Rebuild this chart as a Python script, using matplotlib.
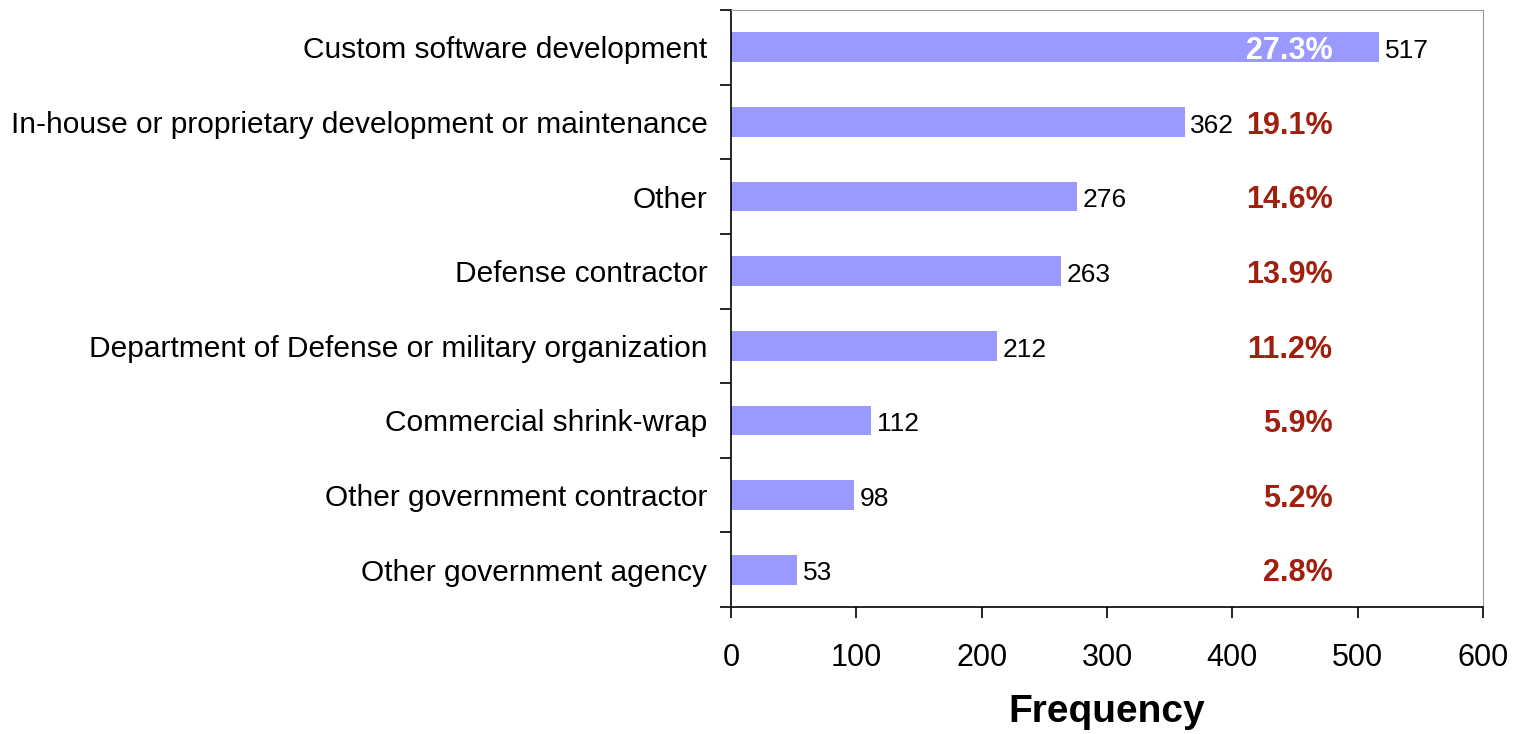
import numpy as np
import matplotlib.pyplot as plt

plt.rcParams['font.family'] = ['Liberation Sans', 'DejaVu Sans']

categories = [
    "Custom software development",
    "In-house or proprietary development or maintenance",
    "Other",
    "Defense contractor",
    "Department of Defense or military organization",
    "Commercial shrink-wrap",
    "Other government contractor",
    "Other government agency",
]
counts = [517, 362, 276, 263, 212, 112, 98, 53]
percents = ["27.3%", "19.1%", "14.6%", "13.9%", "11.2%", "5.9%", "5.2%", "2.8%"]

fig = plt.figure(figsize=(15.15, 7.34), dpi=100)
ax = fig.add_axes([731 / 1515, 1 - 607 / 734, 752 / 1515, 597 / 734])

y = np.arange(len(categories))
ax.barh(y, counts, height=0.4, color="#9999ff")
ax.set_ylim(len(categories) - 0.5, -0.5)
ax.set_xlim(0, 600)
ax.set_xticks(np.arange(0, 601, 100))

# category boundaries carry the tick marks; names sit between them
ax.set_yticks(np.arange(-0.5, len(categories), 1.0))
ax.set_yticklabels([])
ax.set_yticks(y, minor=True)
ax.set_yticklabels(categories, minor=True, fontsize=21.5)
ax.tick_params(axis="y", which="minor", length=0, pad=17)
ax.tick_params(axis="y", which="major", length=8, width=1.2, direction="out")
ax.tick_params(axis="x", length=8, width=1.2, direction="out", labelsize=22, pad=18)

for side in ("top", "right"):
    ax.spines[side].set_color("#999999")
for side in ("left", "bottom"):
    ax.spines[side].set_linewidth(1.2)

for i, (c, p) in enumerate(zip(counts, percents)):
    ax.text(c + 4.5, i + 0.05, str(c), va="center", ha="left", fontsize=19)
    ax.text(480, i + 0.05, p, va="center", ha="right", fontsize=22, fontweight="bold",
            color="white" if i == 0 else "#a02010")

ax.set_xlabel("Frequency", fontsize=28, fontweight="bold", va="center")
ax.xaxis.set_label_coords(0.5, -0.176)

fig.savefig("out.png", dpi=100)
